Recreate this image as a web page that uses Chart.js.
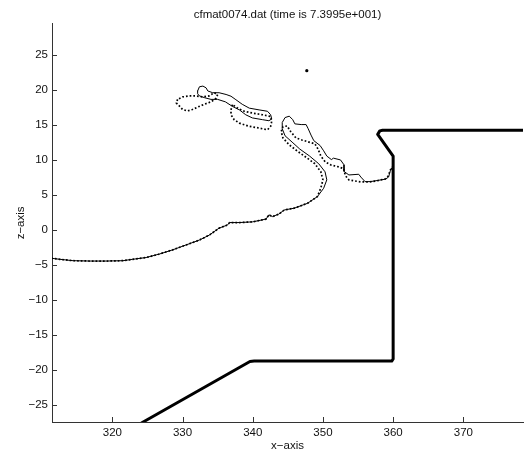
<!DOCTYPE html>
<html>
<head>
  <title>cfmat0074.dat</title>
  <style>
    body { margin: 0; background: #fff; }
    canvas { display: block; }
  </style>
</head>
<body>
  <canvas id="plot" width="527" height="455"></canvas>

  <script src="https://cdn.jsdelivr.net/npm/chart.js"></script>
  <script>
    // axis ticks
    const xTicks = [320, 330, 340, 350, 360, 370];
    const zTicks = [-25, -20, -15, -10, -5, 0, 5, 10, 15, 20, 25];

    // free surface near the bed, common to both interfaces
    const surfaceBase = [
      [311.3, -4.0], [312.5, -4.15], [314.4, -4.35], [316.8, -4.4], [319.2, -4.4],
      [321.5, -4.35], [322.9, -4.15], [324.8, -3.9], [326.7, -3.4], [328.6, -2.8],
      [330.5, -2.1], [332.4, -1.4], [333.8, -0.7], [335.2, 0.3], [336.4, 0.75],
      [336.7, 1.1], [338.1, 1.1], [340.0, 1.2], [341.9, 1.6], [342.3, 2.2],
      [342.8, 1.95], [343.7, 2.3], [344.5, 2.9], [345.9, 3.15], [347.8, 3.85],
      [349.2, 4.8]
    ];

    // solid interface: the finger and the run into the wall
    const solidFinger = [
      [350.1, 6.0], [350.55, 7.2], [350.3, 8.35], [349.4, 9.5], [348.1, 10.6],
      [346.7, 11.6], [345.6, 12.6], [344.6, 13.5], [344.2, 14.5], [344.2, 15.4],
      [344.6, 16.1], [345.2, 16.3], [345.7, 15.8], [346.0, 15.2], [346.9, 15.1],
      [347.6, 15.1], [347.9, 14.5], [348.3, 13.6], [348.7, 12.8], [349.6, 12.1],
      [350.1, 11.35], [350.55, 10.6], [351.2, 10.1], [351.5, 10.3], [352.5, 10.05],
      [353.0, 9.35], [353.0, 8.4], [353.7, 7.9], [355.1, 8.0], [355.4, 7.6],
      [356.0, 6.95], [356.75, 6.95], [357.7, 7.1], [358.9, 7.3], [359.35, 7.6],
      [359.6, 8.5], [359.8, 8.9]
    ];

    // solid detached blob
    const solidBlob = [
      [332.15, 19.9], [332.4, 20.5], [332.9, 20.6], [333.35, 20.35], [333.6, 19.9],
      [334.3, 19.65], [335.2, 19.65], [336.2, 19.4], [336.9, 19.15], [337.6, 18.65],
      [338.5, 18.0], [339.5, 17.45], [340.9, 17.2], [342.1, 17.0], [342.55, 16.5],
      [342.7, 15.9], [342.3, 15.65], [341.4, 15.8], [339.95, 16.05], [339.0, 16.5],
      [338.1, 17.2], [337.1, 17.7], [336.1, 18.35], [335.0, 18.7], [334.05, 18.7],
      [333.1, 18.95], [332.4, 19.2], [332.15, 19.5], [332.15, 19.9]
    ];

    // dotted interface: the finger and the run into the wall
    const dottedFinger = [
      [349.7, 6.05], [350.0, 7.2], [349.7, 8.35], [348.85, 9.5], [347.7, 10.35],
      [346.3, 11.35], [345.2, 12.2], [344.3, 13.2], [344.05, 14.1], [344.3, 14.8],
      [344.9, 14.9], [345.4, 14.1], [346.15, 13.2], [347.0, 12.9], [348.0, 12.6],
      [348.85, 12.35], [349.3, 11.6], [349.7, 10.6], [350.3, 9.8], [351.1, 9.35],
      [352.25, 9.05], [352.95, 8.8], [353.2, 7.8], [353.7, 7.2], [354.5, 7.05],
      [355.5, 6.9], [356.5, 6.9], [357.6, 7.05], [358.9, 7.35], [359.3, 7.75],
      [359.6, 8.6], [359.9, 9.05]
    ];

    // dotted detached drops
    const dottedDropA = [
      [329.3, 18.7], [329.1, 18.2], [329.55, 17.75], [330.0, 17.25], [330.7, 17.05],
      [331.4, 17.25], [332.15, 17.6], [333.1, 18.0], [334.05, 18.35], [334.75, 18.85],
      [335.0, 19.4], [334.5, 19.65], [333.8, 19.2], [332.85, 19.05], [331.9, 19.2],
      [331.0, 19.2], [330.0, 19.05], [329.3, 18.7]
    ];
    const dottedDropB = [
      [337.1, 17.95], [336.9, 17.2], [336.9, 16.5], [337.35, 15.8], [338.1, 15.3],
      [339.5, 14.85], [340.9, 14.6], [342.1, 14.35], [342.55, 14.85], [342.7, 15.55],
      [342.55, 16.25], [341.4, 16.5], [339.95, 16.75], [338.8, 17.0], [337.85, 17.45],
      [337.1, 17.95]
    ];

    // spray droplet
    const droplet = [[347.7, 22.8]];

    // tank wall / structure outline
    const wall = [
      [324.2, -27.5], [339.6, -18.75], [340.2, -18.7], [359.8, -18.7], [360.0, -18.4],
      [360.0, 10.6], [357.8, 13.7], [358.1, 14.2], [358.5, 14.3], [378.6, 14.3]
    ];

    const FONT = { family: '"Liberation Sans", Arial, Helvetica, sans-serif', size: 11.5 };
    const INK = '#111';
    const DOTS = [1.7, 2];
    const pts = arr => arr.map(p => ({ x: p[0], y: p[1] }));
    const minus = v => (v < 0 ? '\u2212' + Math.abs(v) : String(v));

    function line(data, width, dash) {
      return {
        data: pts(data),
        showLine: true,
        borderColor: '#000',
        borderWidth: width,
        borderDash: dash || [],
        borderCapStyle: dash ? 'butt' : 'round',
        borderJoinStyle: 'round',
        pointRadius: 0,
        tension: 0
      };
    }

    // MATLAB-style ticks pointing into the plot
    const inwardTicks = {
      id: 'inwardTicks',
      afterDraw(chart) {
        const { ctx, chartArea: a, scales: { x, y } } = chart;
        ctx.save();
        ctx.strokeStyle = '#333';
        ctx.lineWidth = 1;
        ctx.beginPath();
        xTicks.forEach(v => {
          const px = Math.round(x.getPixelForValue(v)) + 0.5;
          ctx.moveTo(px, a.bottom);
          ctx.lineTo(px, a.bottom - 5);
        });
        zTicks.forEach(v => {
          const py = Math.round(y.getPixelForValue(v)) + 0.5;
          ctx.moveTo(a.left, py);
          ctx.lineTo(a.left + 5, py);
        });
        ctx.stroke();
        ctx.restore();
      }
    };

    new Chart(document.getElementById('plot'), {
      type: 'scatter',
      data: {
        datasets: [
          line(surfaceBase.concat(solidFinger), 1),
          line(solidBlob, 1),
          line(surfaceBase.concat(dottedFinger), 1.7, DOTS),
          line(dottedDropA, 1.7, DOTS),
          line(dottedDropB, 1.7, DOTS),
          {
            data: pts(droplet),
            pointRadius: 1.6,
            pointBackgroundColor: '#000',
            pointBorderWidth: 0
          },
          line(wall, 3)
        ]
      },
      options: {
        responsive: false,
        animation: false,
        layout: { padding: { left: 0, right: 2, top: 0, bottom: 0 } },
        plugins: {
          legend: { display: false },
          tooltip: { enabled: false },
          title: {
            display: true,
            text: 'cfmat0074.dat (time is 7.3995e+001)',
            fullSize: false,
            color: INK,
            font: { ...FONT, weight: 'normal' },
            padding: { top: 8, bottom: 2 }
          }
        },
        scales: {
          x: {
            type: 'linear',
            min: 311.4,
            max: 378.5,
            afterBuildTicks: s => { s.ticks = xTicks.map(v => ({ value: v })); },
            afterFit: s => { s.height = 33; },
            grid: { display: false, drawTicks: false },
            border: { display: true, color: '#333', width: 1 },
            ticks: { color: INK, font: FONT, padding: 4, maxRotation: 0, callback: minus },
            title: { display: true, text: 'x\u2212axis', color: INK, font: FONT, padding: { top: 0, bottom: 2 } }
          },
          y: {
            type: 'linear',
            min: -27.4,
            max: 29.5,
            afterBuildTicks: s => { s.ticks = zTicks.map(v => ({ value: v })); },
            afterFit: s => { s.width = 52; },
            grid: { display: false, drawTicks: false },
            border: { display: true, color: '#333', width: 1 },
            ticks: { color: INK, font: FONT, padding: 4, callback: minus },
            title: { display: true, text: 'z\u2212axis', color: INK, font: FONT, padding: { top: 14, bottom: 0 } }
          }
        }
      },
      plugins: [inwardTicks]
    });
  </script>
</body>
</html>
